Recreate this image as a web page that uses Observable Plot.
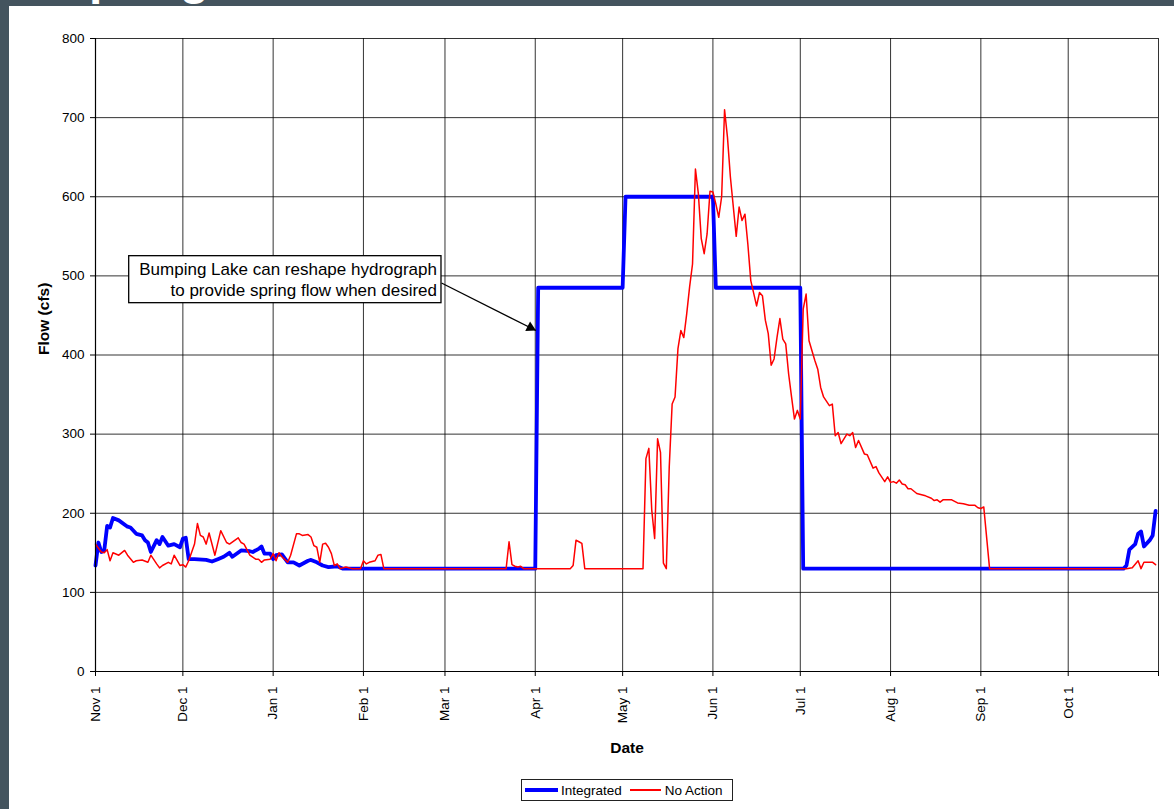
<!DOCTYPE html>
<html>
<head>
<meta charset="utf-8">
<script src="https://cdn.jsdelivr.net/npm/d3@7"></script>
<script src="https://cdn.jsdelivr.net/npm/@observablehq/plot@0.6"></script>
<style>
  html, body { margin: 0; padding: 0; width: 1174px; height: 809px; overflow: hidden; background: #44545e;
    font-family: "Liberation Sans", Arial, sans-serif; }
  #title { position: absolute; left: 0; top: 0; width: 1174px; height: 6px; overflow: hidden; }
  #title span { position: absolute; left: 57px; top: -46px; font-size: 48px; font-weight: bold; color: #fff;
    line-height: 1; white-space: nowrap; }
  #panel { position: absolute; left: 9px; top: 6px; right: 0; bottom: 0; background: #fff; }
  #chart { position: absolute; left: 0; top: 0; }
  #legend { position: absolute; left: 521px; top: 779px; width: 212px; height: 22px; box-sizing: border-box;
    border: 1px solid #222; background: #fff; display: flex; align-items: center; font-size: 13.5px; color: #000; }
  #legend .sw { display: inline-block; }
</style>
</head>
<body>
<div id="title"><span>Spring</span></div>
<div id="panel"></div>
<div id="chart"></div>
<div id="legend">
  <span class="sw" style="width:33px;height:4px;background:#0000ff;margin-left:3px;margin-right:3px;"></span>
  <span>Integrated</span>
  <span class="sw" style="width:31px;height:1.5px;background:#ff0000;margin-left:8px;margin-right:4px;"></span>
  <span>No Action</span>
</div>
<script>
// ---- data (day offsets from Nov 1 of the water year) ----
const seriesNames = ["Integrated", "No Action"];

const integratedDay = [0,1,2,3,4,5,6,8,11,12,14,16,17,18,19,21,22,23,25,27,29,30,31,32,34,38,40,42,44,46,47,50,53,54,56,57,58,60,61,62,64,66,68,70,73,74,76,78,80,83,85,151,152,181,182,212,213,242,243,353,354,355,357,358,359,360,362,363,364];
const integratedFlow = [134,163,151,153,184,182,194,191,183,182,174,172,166,163,151,166,161,170,159,161,157,168,169,142,142,141,139,142,145,150,145,153,152,151,155,158,149,149,142,147,148,138,138,134,140,141,138,134,132,133,130,130,485,485,600,600,485,485,130,130,134,154,161,174,177,158,166,172,203];

const noActionDay = [0,2,3,4,5,6,8,10,11,13,14,16,18,19,21,22,23,25,26,27,29,30,31,32,34,35,36,37,38,39,41,43,45,46,49,50,51,53,55,56,57,58,60,61,62,63,64,66,67,69,70,71,73,74,75,76,77,78,79,80,81,82,83,84,86,88,91,92,93,94,96,97,98,99,141,142,143,144,145,146,147,163,164,165,166,167,168,188,189,190,191,192,193,194,195,196,197,198,199,200,201,202,203,204,205,206,207,208,209,210,211,212,213,214,215,216,217,218,220,221,222,223,224,225,227,228,229,230,231,232,233,234,235,236,237,238,239,240,241,242,243,244,245,247,248,249,250,252,253,254,255,256,258,259,260,261,262,264,265,267,268,269,271,272,273,274,275,276,277,278,279,280,282,283,285,287,288,289,290,291,294,296,298,299,300,302,303,304,305,307,354,356,358,359,360,363,364];
const noActionFlow = [161,151,150,154,140,150,147,153,147,138,140,141,138,147,136,131,134,138,136,147,134,135,132,140,161,187,172,170,161,175,147,178,163,161,169,163,161,147,142,142,138,141,142,149,140,150,145,138,147,174,174,172,173,170,159,157,138,161,162,157,149,134,136,130,132,130,130,140,136,138,140,147,148,130,130,164,135,133,132,133,130,130,134,166,164,162,130,130,269,282,204,168,294,277,137,130,258,338,347,408,431,422,452,486,515,635,604,547,528,553,607,606,591,574,600,710,675,625,550,587,570,578,540,494,462,479,475,444,427,387,395,422,446,420,414,376,347,319,330,319,458,477,418,393,382,359,347,336,338,298,302,288,300,298,302,283,292,275,274,257,259,251,240,246,239,240,238,242,237,236,231,231,225,224,222,219,216,217,214,217,217,213,212,211,210,210,207,206,208,130,130,131,140,130,138,138,135];

const tickLabels = ["Nov 1","Dec 1","Jan 1","Feb 1","Mar 1","Apr 1","May 1","Jun 1","Jul 1","Aug 1","Sep 1","Oct 1",""];
const flowTicks = [0,100,200,300,400,500,600,700,800];

const noteText = "Bumping Lake can reshape hydrograph\nto provide spring flow when desired";
const noteBoxDays = [11.57, 118.8];
const noteBoxFlow = [465.5, 524.9];
const noteArrowFrom = [118.8, 491];
const noteArrowTo = [151.25, 431];

// ---- build ----
const start = new Date(Date.UTC(2001, 10, 1));
const end = new Date(Date.UTC(2002, 10, 1));
const toDate = d => new Date(start.getTime() + d * 864e5);

const integrated = integratedDay.map((d, i) => ({date: toDate(d), flow: integratedFlow[i]}));
const noAction = noActionDay.map((d, i) => ({date: toDate(d), flow: noActionFlow[i]}));
const monthTicks = d3.utcMonth.range(start, new Date(end.getTime() + 1));
const labelOf = new Map(monthTicks.map((d, i) => [+d, tickLabels[i]]));

const note = {
  text: noteText,
  x1: toDate(noteBoxDays[0]), x2: toDate(noteBoxDays[1]),
  y1: noteBoxFlow[0], y2: noteBoxFlow[1],
  ax1: toDate(noteArrowFrom[0]), ay1: noteArrowFrom[1],
  ax2: toDate(noteArrowTo[0]), ay2: noteArrowTo[1]
};

const headR = 4;
const chart = Plot.plot({
  width: 1174,
  height: 760,
  marginLeft: 95,
  marginRight: 16,
  marginTop: 38,
  marginBottom: 89,
  style: {fontFamily: "'Liberation Sans', Arial, sans-serif", fontSize: "13.5px", color: "#000", background: "transparent", overflow: "visible"},
  x: {type: "utc", domain: [start, end]},
  y: {domain: [0, 800]},
  marks: [
    Plot.ruleX(monthTicks, {stroke: "#000", strokeOpacity: 0.8, strokeWidth: 1}),
    Plot.ruleY(flowTicks.slice(1), {stroke: "#000", strokeOpacity: 0.8, strokeWidth: 1}),
    Plot.axisX({ticks: monthTicks, tickFormat: d => labelOf.get(+d) ?? "", tickRotate: -90, tickSize: 5, tickPadding: 10, label: null, fontSize: 13.5}),
    Plot.axisY({ticks: flowTicks, tickSize: 5, tickPadding: 6, label: null, fontSize: 13.5}),
    Plot.line(integrated, {x: "date", y: "flow", stroke: "#0000ff", strokeWidth: 3.8, strokeLinejoin: "round"}),
    Plot.line(noAction, {x: "date", y: "flow", stroke: "#ff0000", strokeWidth: 1.5, strokeLinejoin: "round"}),
    Plot.ruleY([0], {stroke: "#000", strokeWidth: 1.2}),
    Plot.ruleX([start], {stroke: "#000", strokeWidth: 1.2}),
    Plot.rect([note], {x1: "x1", x2: "x2", y1: "y1", y2: "y2", fill: "#fff", stroke: "#000", strokeWidth: 1.3}),
    Plot.text([note], {x: "x2", y: d => (d.y1 + d.y2) / 2, text: "text", textAnchor: "end", lineAnchor: "middle", lineHeight: 1.25, dx: -4.5, dy: -1, fontSize: 17, fill: "#000"}),
    Plot.link([note], {x1: "ax1", y1: "ay1", x2: "ax2", y2: "ay2", stroke: "#000", strokeWidth: 1.3}),
    Plot.dot([note], {x: "ax2", y: "ay2", symbol: "triangle", r: headR, fill: "#000", stroke: null, rotate: 116.57,
      dx: -1.555 * headR * 0.894, dy: -1.555 * headR * 0.447}),
    Plot.text(["Flow (cfs)"], {text: d => d, frameAnchor: "left", dx: -51, rotate: -90, fontWeight: "bold", fontSize: 15.5, fill: "#000"}),
    Plot.text(["Date"], {text: d => d, frameAnchor: "bottom", dy: 81, fontWeight: "bold", fontSize: 15.5, fill: "#000"})
  ]
});
document.getElementById("chart").appendChild(chart);
</script>
</body>
</html>
